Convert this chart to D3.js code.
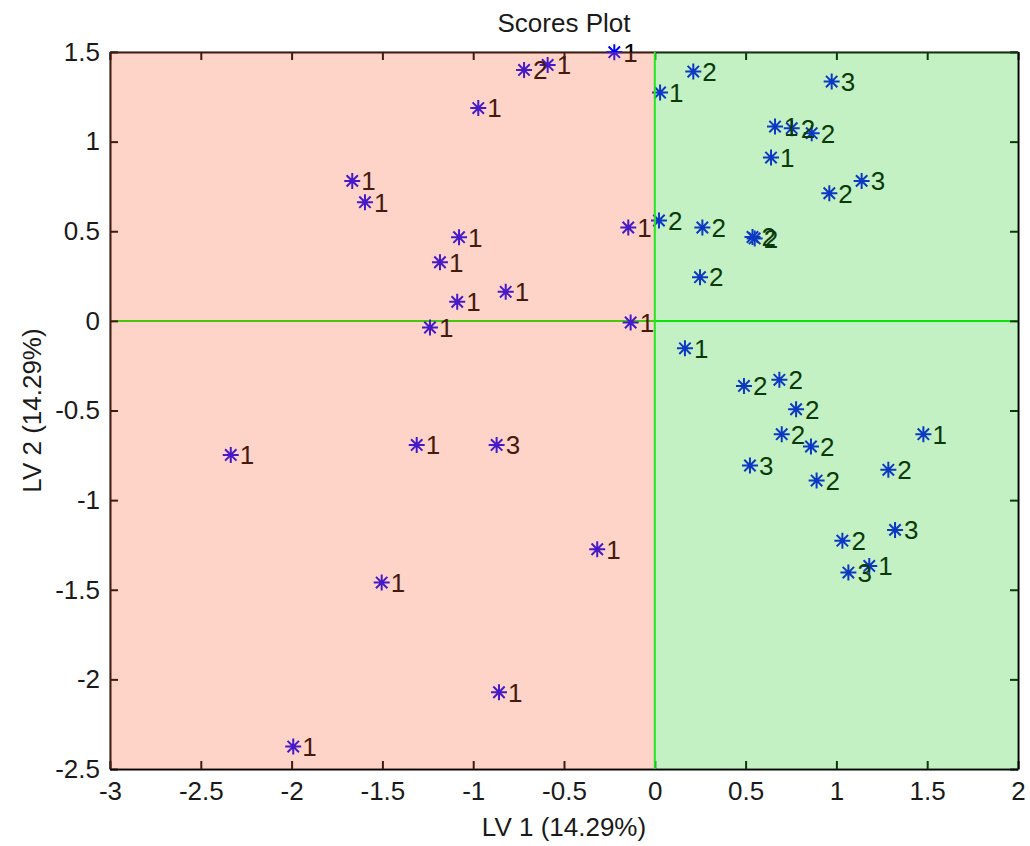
<!DOCTYPE html>
<html>
<head>
<meta charset="utf-8">
<script src="https://cdn.jsdelivr.net/npm/d3@7"></script>
<style>
  html, body { margin: 0; padding: 0; background: #ffffff; }
  svg { display: block; }
  text { font-family: "Liberation Sans", Arial, sans-serif; }
</style>
</head>
<body>
<svg id="chart" width="1030" height="846"></svg>
<script>
// ---- data ----
const lv1 = [
  -0.972, -1.666, -1.596, -1.078, -1.183, -1.088, -0.821, -1.238,
  -0.720, -0.590, -0.223, 0.029, 0.212, 0.974, 0.662, 0.754, 0.864,
  0.640, 0.961, 1.139, -0.146, 0.023, 0.262, 0.538, 0.550, 0.249, -0.133,
  0.166, 0.491, 0.686, 0.778, 0.699, 0.860, 0.524, 0.891, 1.479, 1.286,
  1.323, 1.033, 1.066, 1.181, -0.317,
  -2.335, -1.311, -0.871, -1.504, -0.858, -1.991
];
const lv2 = [
  1.187, 0.781, 0.662, 0.467, 0.327, 0.106, 0.162, -0.037,
  1.400, 1.428, 1.499, 1.274, 1.391, 1.335, 1.084, 1.075, 1.047,
  0.911, 0.712, 0.781, 0.521, 0.560, 0.521, 0.468, 0.460, 0.244, -0.009,
  -0.153, -0.363, -0.329, -0.493, -0.632, -0.701, -0.807, -0.891, -0.632, -0.831,
  -1.166, -1.226, -1.404, -1.367, -1.274,
  -0.748, -0.692, -0.692, -1.460, -2.072, -2.375
];
const classLabels = [
  "1","1","1","1","1","1","1","1",
  "2","1","1","1","2","3","1","2","2",
  "1","2","3","1","2","2","2","2","2","1",
  "1","2","2","2","2","2","3","2","1","2",
  "3","2","3","1","1",
  "1","1","3","1","1","1"
];
const xTicks = [-3, -2.5, -2, -1.5, -1, -0.5, 0, 0.5, 1, 1.5, 2];
const yTicks = [-2.5, -2, -1.5, -1, -0.5, 0, 0.5, 1, 1.5];
const titleText = "Scores Plot";
const xLabelText = "LV 1 (14.29%)";
const yLabelText = "LV 2 (14.29%)";

// ---- layout ----
const pL = 110, pR = 1018, pT = 52, pB = 769;
const svg = d3.select("#chart");
const x = d3.scaleLinear().domain([-3, 2]).range([pL, pR]);
const y = d3.scaleLinear().domain([-2.5, 1.5]).range([pB, pT]);
const fontSize = 26;

svg.append("rect").attr("width", 1030).attr("height", 846).attr("fill", "#ffffff");

// zero line (under overlay)
svg.append("line")
  .attr("x1", x(-3)).attr("x2", x(2)).attr("y1", y(0)).attr("y2", y(0))
  .attr("stroke", "#00ee00").attr("stroke-width", 2);

// axes box with inward ticks
const fmt = d => String(d);
const axB = svg.append("g").attr("transform", `translate(0,${pB})`)
  .call(d3.axisBottom(x).tickValues(xTicks).tickSizeInner(-8).tickSizeOuter(0).tickPadding(13).tickFormat(fmt));
const axL = svg.append("g").attr("transform", `translate(${pL},0)`)
  .call(d3.axisLeft(y).tickValues(yTicks).tickSizeInner(-8).tickSizeOuter(0).tickPadding(10).tickFormat(fmt));
const axT = svg.append("g").attr("transform", `translate(0,${pT})`)
  .call(d3.axisTop(x).tickValues(xTicks).tickSizeInner(-8).tickSizeOuter(0).tickFormat(""));
const axR = svg.append("g").attr("transform", `translate(${pR},0)`)
  .call(d3.axisRight(y).tickValues(yTicks).tickSizeInner(-8).tickSizeOuter(0).tickFormat(""));
[axB, axL, axT, axR].forEach(g => {
  g.select(".domain").attr("stroke", "#000").attr("stroke-width", 2);
  g.selectAll(".tick line").attr("stroke", "#000").attr("stroke-width", 2);
  g.selectAll(".tick text").attr("fill", "#1a1a1a").style("font-size", fontSize + "px")
    .style("font-family", '"Liberation Sans", Arial, sans-serif');
});

// points: asterisk markers and class labels
const idx = d3.range(lv1.length);
const star = "M0,-8L0,8M-8,0L8,0M-5.7,-5.7L5.7,5.7M-5.7,5.7L5.7,-5.7";
const pts = svg.append("g");
pts.selectAll("path.m").data(idx).join("path")
  .attr("class", "m")
  .attr("transform", i => `translate(${x(lv1[i])},${y(lv2[i])})`)
  .attr("d", star)
  .attr("stroke", "#0000ff").attr("stroke-width", 2).attr("fill", "none");
pts.selectAll("text.l").data(idx).join("text")
  .attr("class", "l")
  .attr("x", i => x(lv1[i]) + 9)
  .attr("y", i => y(lv2[i]))
  .attr("dy", "0.36em")
  .attr("fill", "#000")
  .style("font-size", fontSize + "px")
  .text(i => classLabels[i]);

// translucent class regions over the plot
svg.append("rect")
  .attr("x", x(-3)).attr("y", y(1.5))
  .attr("width", x(0) - x(-3)).attr("height", y(-2.5) - y(1.5))
  .attr("fill", "rgb(255,95,50)").attr("fill-opacity", 0.27);
svg.append("rect")
  .attr("x", x(0)).attr("y", y(1.5))
  .attr("width", x(2) - x(0)).attr("height", y(-2.5) - y(1.5))
  .attr("fill", "rgb(40,205,40)").attr("fill-opacity", 0.28);

// vertical zero line
svg.append("line")
  .attr("x1", x(0)).attr("x2", x(0)).attr("y1", y(1.5)).attr("y2", y(-2.5))
  .attr("stroke", "#22e622").attr("stroke-width", 2);

// titles
svg.append("text").attr("x", (pL + pR) / 2).attr("y", 32)
  .attr("text-anchor", "middle").attr("fill", "#1a1a1a")
  .style("font-size", fontSize + "px").text(titleText);
svg.append("text").attr("x", (pL + pR) / 2).attr("y", 836)
  .attr("text-anchor", "middle").attr("fill", "#1a1a1a")
  .style("font-size", fontSize + "px").text(xLabelText);
svg.append("text")
  .attr("transform", `translate(41,${(pT + pB) / 2}) rotate(-90)`)
  .attr("text-anchor", "middle").attr("fill", "#1a1a1a")
  .style("font-size", fontSize + "px").text(yLabelText);
</script>
</body>
</html>
